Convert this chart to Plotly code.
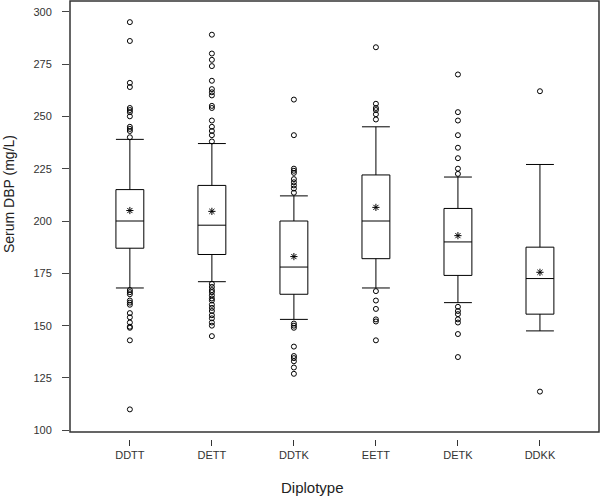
import plotly.graph_objects as go

categories = ["DDTT", "DETT", "DDTK", "EETT", "DETK", "DDKK"]
q1 = [187, 184, 165, 182, 174, 155.5]
median = [200, 198, 178, 200, 190, 172.5]
q3 = [215, 217, 200, 222, 206, 187.5]
lower_whisker = [168, 171, 153, 168, 161, 147.5]
upper_whisker = [239, 237, 212, 245, 221, 227]
means = [205, 204.6, 183, 206.5, 193, 175.5]

out_DDTT = [295, 286, 266, 264, 254, 253, 252, 250, 245, 244, 243, 240,
            167, 166, 165, 162, 161, 160, 156, 154, 151.5, 149.5, 149, 143, 110]
out_DETT = [289, 280, 277, 274, 267, 263, 261.5, 260, 255, 254, 248, 245, 243, 241, 238,
            170, 168.5, 167, 166, 164.5, 163, 162, 160, 158.5, 157, 155, 153.5, 151.5, 150, 145]
out_DDTK = [258, 241, 225, 224, 223, 220, 218.5, 217, 215.5, 213.5,
            151, 150, 149, 140, 135.5, 134.5, 133, 130, 127]
out_EETT = [283, 256, 254, 253, 251, 248.5,
            166.5, 162, 158, 153, 152, 143]
out_DETK = [270, 252, 248, 241, 235, 230, 225, 222.5,
            159, 157, 155.5, 153, 151.5, 146, 135]
out_DDKK = [262, 118.5]

outliers = [out_DDTT, out_DETT, out_DDTK, out_EETT, out_DETK, out_DDKK]
out_x = [c for c, vals in zip(categories, outliers) for _ in vals]
out_y = [v for vals in outliers for v in vals]

y_ticks = [100, 125, 150, 175, 200, 225, 250, 275, 300]

font_family = "Arial, Liberation Sans, sans-serif"

fig = go.Figure()
fig.add_trace(go.Box(
    x=categories, q1=q1, median=median, q3=q3,
    lowerfence=lower_whisker, upperfence=upper_whisker,
    boxpoints=False, width=0.34, whiskerwidth=1,
    fillcolor="white", line=dict(color="black", width=1),
    hoverinfo="skip", showlegend=False,
))
fig.add_trace(go.Scatter(
    x=out_x, y=out_y, mode="markers",
    marker=dict(symbol="circle-open", size=5, color="black", line=dict(width=1)),
    showlegend=False,
))
fig.add_trace(go.Scatter(
    x=categories, y=means, mode="markers",
    marker=dict(symbol="asterisk-open", size=6, color="black", line=dict(width=1, color="black")),
    showlegend=False,
))

W, H = 600, 496
ml, mr, mt, mb = 70, 1, 1, 57
ph = H - mt - mb
pw = W - ml - mr
d = 7 / ph

fig.update_layout(
    width=W, height=H,
    margin=dict(l=ml, r=mr, t=mt, b=mb, autoexpand=False),
    paper_bgcolor="white", plot_bgcolor="white",
    font=dict(family=font_family, size=11, color="#333"),
    xaxis=dict(
        type="category", range=[-0.73, 5.72],
        anchor="free", position=0, automargin=False,
        showgrid=False, zeroline=False, showline=False,
        ticks="outside", ticklen=6, tickcolor="#333", tickwidth=1,
        tickfont=dict(size=11, color="#333"),
    ),
    yaxis=dict(
        domain=[d, 1], range=[99.2, 305.1], automargin=False,
        tickvals=y_ticks,
        showgrid=False, zeroline=False, showline=False,
        ticks="outside", ticklen=7, tickcolor="#444", tickwidth=1,
        ticklabelstandoff=8,
        tickfont=dict(size=11, color="#333"),
    ),
    shapes=[dict(type="rect", xref="paper", yref="paper",
                 x0=0, x1=1, y0=d, y1=1, line=dict(color="#333", width=1.5))],
    annotations=[
        dict(text="Serum DBP (mg/L)", xref="paper", yref="paper",
             x=(9 - ml) / pw, y=1 - (194 - mt) / ph, textangle=-90,
             xanchor="center", yanchor="middle", showarrow=False,
             font=dict(size=14, color="#222")),
        dict(text="Diplotype", xref="paper", yref="paper",
             x=(312 - ml) / pw, y=1 - (487 - mt) / ph,
             xanchor="center", yanchor="middle", showarrow=False,
             font=dict(size=15, color="#222")),
    ],
)

fig.write_html(
    "out.html",
    config={"displayModeBar": False},
    post_script="document.body.style.margin='0';document.body.style.padding='0';",
)
